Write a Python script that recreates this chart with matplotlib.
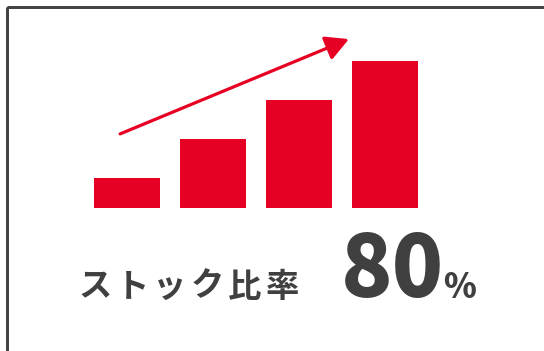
import matplotlib
matplotlib.use("Agg")
import matplotlib.pyplot as plt
from matplotlib.patches import Rectangle

# data
categories = ["1", "2", "3", "4"]
values = [1.0, 2.3, 3.6, 4.9]
label = "ストック比率"
ratio = "80"
unit = "%"

RED = "#e60023"
GRAY = "#404040"
W, H = 544, 351

fig = plt.figure(figsize=(W / 100, H / 100), dpi=100)

# overlay in pixel coordinates for frame and text
ov = fig.add_axes([0, 0, 1, 1])
ov.set_xlim(0, W)
ov.set_ylim(H, 0)
ov.axis("off")
ov.add_patch(Rectangle((6.5, 6.5), 700, 700, fill=False, edgecolor="#444444",
                       linewidth=3 * 72 / 100))

# bars
ax = fig.add_axes([84 / W, 143 / H, 344 / W, 147 / H])
ax.patch.set_alpha(0)
x = range(len(categories))
ax.bar(x, values, width=0.77, color=RED)
ax.set_xlim(-0.5, len(categories) - 0.5)
ax.set_ylim(0, max(values))
ax.axis("off")

# trend arrow
ax.annotate("", xy=(2.58, 5.63), xytext=(-0.08, 2.47), annotation_clip=False,
            arrowprops=dict(arrowstyle="-|>,head_length=14,head_width=7.5",
                            mutation_scale=1, color=RED, lw=2.3,
                            shrinkA=0, shrinkB=0))

# label with wide letter spacing
jp = ["Noto Sans CJK JP", "DejaVu Sans"]
pitch = 37.4
for i, ch in enumerate(label):
    ov.text(95 + i * pitch, 287, ch, fontsize=24, fontweight="bold", family=jp,
            color=GRAY, ha="center", va="center")

ov.text(341, 297.5, ratio, fontsize=61, fontweight="heavy", family=jp,
        color=GRAY, ha="left", va="baseline")
ov.text(443, 297.5, unit, fontsize=24, fontweight="heavy", family=jp,
        color=GRAY, ha="left", va="baseline")

fig.savefig("out.png", dpi=100)
